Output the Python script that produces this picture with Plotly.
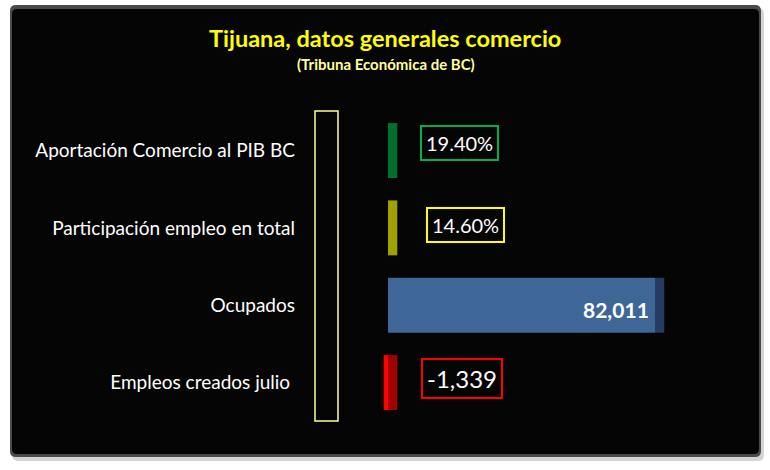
import plotly.graph_objects as go

# ---------------- data ----------------
categories = ["Aportación Comercio al PIB BC", "Participación empleo en total",
              "Ocupados", "Empleos creados julio "]
values = [0.194, 0.146, 82011, -1339]
value_kinds = ["pct", "pct", "int", "int"]

title_text = "Tijuana, datos generales comercio"
subtitle_text = "(Tribuna Económica de BC)"

# ---------------- styles ----------------
front_colors = ["#007A33", "#A6A600", "#3E6697", "#FF0000"]
side_colors = ["#00702F", "#A0A000", "#253C5E", "#A30000"]
box_colors = ["#00B050", "#FFFF00", None, "#FF0000"]
label_sizes = [20, 20, 21, 24]
label_xshift = [23, 29, -4, 24]
label_yshift = [8, 3, -4, 4]

W, H = 770, 470
L = 300
UPP = 82011 / 267.0           # data units per pixel
ZERO_PX = 388
DEPTH = 2850                  # 3D side depth (data units)
FONT = "Lato"


def fmt(v, kind):
    return f"{v * 100:.2f}%" if kind == "pct" else f"{v:,}"


def px(x):
    return (x - L) / (W - L)


def py(y):
    return 1 - y / H


def rrect(x0, y0, x1, y1, r):
    pts = [("M", x0 + r, y0), ("L", x1 - r, y0), ("Q", x1, y0, x1, y0 + r),
           ("L", x1, y1 - r), ("Q", x1, y1, x1 - r, y1), ("L", x0 + r, y1),
           ("Q", x0, y1, x0, y1 - r), ("L", x0, y0 + r), ("Q", x0, y0, x0 + r, y0)]
    s = ""
    for p in pts:
        cmd = p[0]
        coords = p[1:]
        parts = []
        for i in range(0, len(coords), 2):
            parts.append(f"{px(coords[i]):.5f},{py(coords[i + 1]):.5f}")
        s += cmd + " " + " ".join(parts) + " "
    return s + "Z"


fig = go.Figure()

# front faces
fig.add_trace(go.Bar(
    y=categories, x=values, base=[0] * len(values), orientation="h",
    marker=dict(color=front_colors, line=dict(width=0)), width=0.71,
    hoverinfo="skip", showlegend=False))
# 3D side faces
fig.add_trace(go.Bar(
    y=categories, x=[DEPTH] * len(values), base=[max(v, 0) for v in values],
    orientation="h", marker=dict(color=side_colors, line=dict(width=0)),
    width=0.71, hoverinfo="skip", showlegend=False))

annotations = []
for i, (c, v, k) in enumerate(zip(categories, values, value_kinds)):
    txt = fmt(v, k)
    if box_colors[i] is None:
        annotations.append(dict(
            x=v, y=c, xref="x", yref="y", text=f"<b>{txt}</b>", showarrow=False,
            xanchor="right", yanchor="middle", xshift=label_xshift[i],
            yshift=label_yshift[i],
            font=dict(family=FONT, size=label_sizes[i], color="white")))
    else:
        annotations.append(dict(
            x=max(v, 0) + DEPTH, y=c, xref="x", yref="y", text=txt, showarrow=False,
            xanchor="left", yanchor="middle", xshift=label_xshift[i],
            yshift=label_yshift[i], bordercolor=box_colors[i], borderwidth=2,
            borderpad=4, font=dict(family=FONT, size=label_sizes[i], color="white")))

annotations.append(dict(
    x=px(385), y=py(38), xref="paper", yref="paper", text=f"<b>{title_text}</b>",
    showarrow=False, xanchor="center", yanchor="middle",
    font=dict(family=FONT, size=23.5, color="#FFFF00")))
annotations.append(dict(
    x=px(386), y=py(64), xref="paper", yref="paper", text=f"<b>{subtitle_text}</b>",
    showarrow=False, xanchor="center", yanchor="middle",
    font=dict(family=FONT, size=15, color="#FFFF99")))

shapes = [
    dict(type="path", xref="paper", yref="paper", path=rrect(12, 8, 764, 461, 6),
         fillcolor="#D4D4D4", line=dict(width=0), layer="below"),
    dict(type="path", xref="paper", yref="paper", path=rrect(10, 5, 761, 457, 6),
         fillcolor="#4A4A4A", line=dict(width=0), layer="below"),
    dict(type="path", xref="paper", yref="paper", path=rrect(12, 9, 759, 454, 5),
         fillcolor="#050505", line=dict(width=0), layer="below"),
    dict(type="rect", xref="paper", yref="paper", x0=px(315), x1=px(338),
         y0=py(111), y1=py(421), line=dict(color="#FFFF99", width=1.5),
         fillcolor="rgba(0,0,0,0)", layer="above"),
]

fig.update_layout(
    width=W, height=H, margin=dict(l=L, r=0, t=0, b=0),
    paper_bgcolor="white", plot_bgcolor="rgba(0,0,0,0)",
    barmode="overlay", showlegend=False,
    xaxis=dict(range=[(L - ZERO_PX) * UPP, (W - ZERO_PX) * UPP], visible=False,
               fixedrange=True),
    yaxis=dict(type="category", range=[4.13, -1.946], showgrid=False,
               zeroline=False, showline=False, ticks="", ticklabelstandoff=4,
               tickfont=dict(family=FONT, size=19, color="white"), fixedrange=True),
    annotations=annotations, shapes=shapes,
)

fig.write_html("out.html")
